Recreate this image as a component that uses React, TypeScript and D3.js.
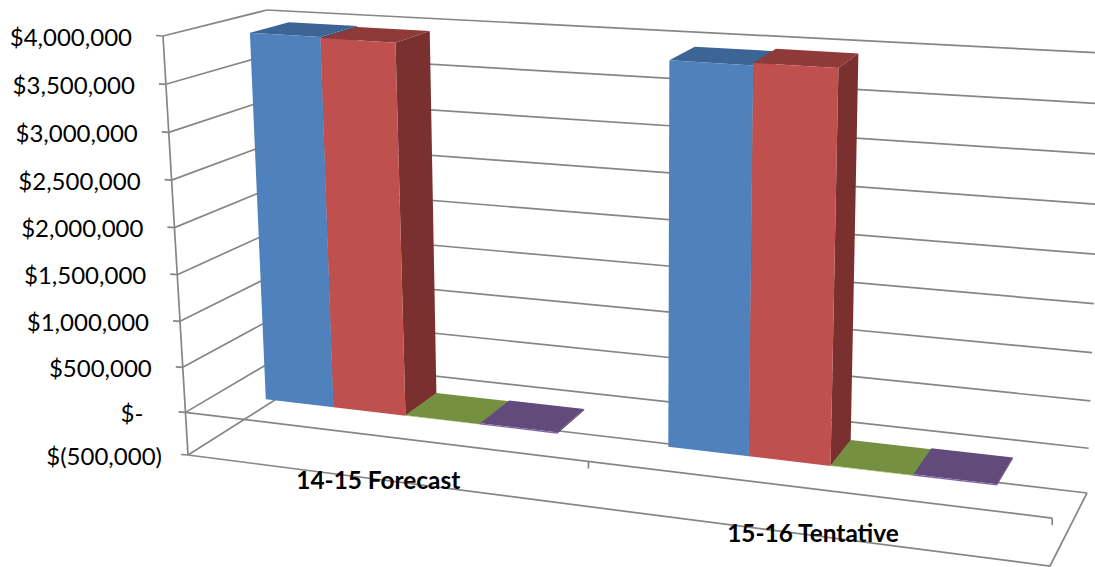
import * as d3 from "d3";

// Chart values
const categories = ["14-15 Forecast", "15-16 Tentative"];
const seriesNames = ["A", "B", "C", "D"];
const forecastValues = [3970000, 3960000, 4000, 14000];
const tentativeValues = [3950000, 3975000, 4000, 14000];
const tickValues = [4000000, 3500000, 3000000, 2500000, 2000000, 1500000, 1000000, 500000, 0, -500000];
const tickLabels = ["$4,000,000", "$3,500,000", "$3,000,000", "$2,500,000", "$2,000,000", "$1,500,000", "$1,000,000", "$500,000", "$-", "$(500,000)"];
const frontColors = ["#4F81BD", "#C0504D", "#9BBB59", "#8064A2"];
const topColors = ["#3C6494", "#8E3A38", "#769041", "#624A7B"];
const sideColors = ["#325379", "#7A302E", "#5F7434", "#4F3B63"];

const WIDTH = 1095;
const HEIGHT = 567;
const LINE = "#868686";

type Pt = [number, number];
// Projected corners of the 3D plot box: front/back, left/right, bottom/top.
const FLB: Pt = [188, 455];
const FLT: Pt = [163, 36];
const BLB: Pt = [278, 398];
const BLT: Pt = [267, 10];
const FRB: Pt = [1050, 566];
const FRT: Pt = [1072, 95];
const BRB: Pt = [1087, 493];
const BRT: Pt = [1103, 53];

const mix = (a: Pt, b: Pt, k: number): Pt => [a[0] + (b[0] - a[0]) * k, a[1] + (b[1] - a[1]) * k];

// Foreshortening along the width and height of the box.
const widthWarp = d3.scalePow().exponent(1.105).domain([0, 1]).range([0, 1]);
const heightWarp = d3.scalePow().exponent(1.04).domain([0, 1]).range([0, 1]);
const valueScale = d3.scaleLinear().domain([-500000, 4000000]).range([0, 1]);

// Maps box coordinates (across, value, depth) to the screen.
function project(u: number, value: number, w: number): Pt {
  const uw = widthWarp(u);
  const t = heightWarp(valueScale(value));
  const frontBottom = mix(FLB, FRB, uw);
  const frontTop = mix(FLT, FRT, uw);
  const backBottom = mix(BLB, BRB, uw);
  const backTop = mix(BLT, BRT, uw);
  return mix(mix(frontBottom, frontTop, t), mix(backBottom, backTop, t), w);
}

const categoryBand = d3.scaleBand().domain(categories).range([0.011, 0.991]);
const seriesBand = d3
  .scaleBand()
  .domain(seriesNames)
  .range([0, categoryBand.bandwidth()])
  .paddingInner(0)
  .paddingOuter(0.705);

const DEPTH_FRONT = 0.35;
const DEPTH_BACK = 0.74;

const lineGen = d3.line<Pt>();
const poly = (pts: Pt[]) => lineGen(pts) + "Z";

function Bar({ u0, u1, value, index }: { u0: number; u1: number; value: number; index: number }) {
  const a = project(u0, 0, DEPTH_FRONT);
  const b = project(u1, 0, DEPTH_FRONT);
  const c = project(u1, value, DEPTH_FRONT);
  const d = project(u0, value, DEPTH_FRONT);
  const e = project(u1, 0, DEPTH_BACK);
  const f = project(u1, value, DEPTH_BACK);
  const g = project(u0, value, DEPTH_BACK);
  return (
    <g>
      <path d={poly([b, e, f, c])} fill={sideColors[index]} />
      <path d={poly([d, c, f, g])} fill={topColors[index]} />
      <path d={poly([a, b, c, d])} fill={frontColors[index]} />
    </g>
  );
}

// Gap between the axis position and the label, wider for the zero label.
const labelGap = (v: number) => (v === 0 ? 42 : v < 0 ? 26 : 31);

export default function App() {
  const rows = [forecastValues, tentativeValues];
  const axisFont = "Lato, 'Open Sans', sans-serif";
  return (
    <svg
      width={WIDTH}
      height={HEIGHT}
      viewBox={`0 0 ${WIDTH} ${HEIGHT}`}
      style={{ position: "absolute", left: 0, top: 0, display: "block", background: "#fff" }}
    >
      <g fill="none" stroke={LINE} strokeWidth={1.7}>
        {tickValues.map((v) => (
          <g key={v}>
            <path d={lineGen([project(0, v, 0), project(0, v, 1)]) as string} />
            <path d={lineGen([project(0, v, 1), project(1, v, 1)]) as string} />
            <path d={lineGen([[project(0, v, 0)[0] - 7, project(0, v, 0)[1] - 0.5], project(0, v, 0)]) as string} />
          </g>
        ))}
        <path d={lineGen([project(0, 4000000, 0), project(0, -500000, 0)]) as string} />
        <path d={lineGen([project(0, -500000, 0), project(1, -500000, 0), project(1, -500000, 1)]) as string} />
        <path d={lineGen([project(0, 0, 0), project(1, 0, 0)]) as string} />
        {[0.5, 1].map((u) => {
          const p = project(u, 0, 0);
          return <path key={u} d={lineGen([p, [p[0], p[1] + 7]]) as string} />;
        })}
      </g>

      {categories.map((cat, ci) =>
        seriesNames.map((name, si) => {
          const u0 = (categoryBand(cat) as number) + (seriesBand(name) as number);
          return <Bar key={cat + name} u0={u0} u1={u0 + seriesBand.bandwidth()} value={rows[ci][si]} index={si} />;
        })
      )}

      <g fontFamily={axisFont} fontSize={24} fill="#000" textAnchor="end">
        {tickValues.map((v, i) => {
          const p = project(0, v, 0);
          return (
            <text key={v} x={p[0] - labelGap(v)} y={p[1] + 9.5}>
              {tickLabels[i]}
            </text>
          );
        })}
      </g>

      <g fontFamily={axisFont} fontSize={24.4} fontWeight={700} fill="#000" textAnchor="middle">
        {categories.map((cat) => {
          const p = project((categoryBand(cat) as number) + categoryBand.bandwidth() / 2, 0, 0);
          return (
            <text key={cat} x={p[0] + 0.5} y={p[1] + 53}>
              {cat}
            </text>
          );
        })}
      </g>
    </svg>
  );
}
